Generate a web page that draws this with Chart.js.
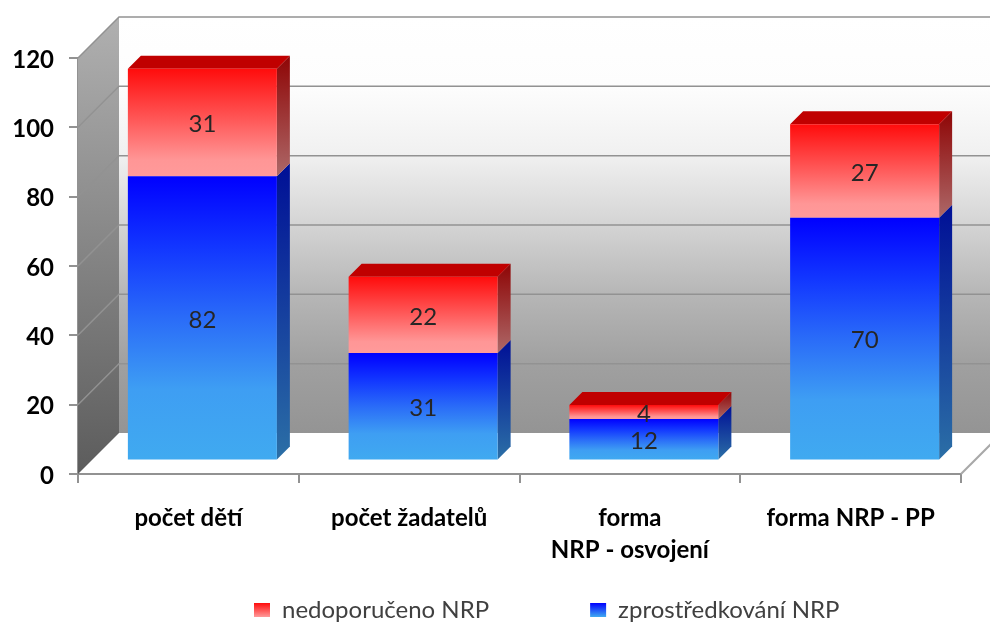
<!DOCTYPE html>
<html>
<head>
<meta charset="utf-8">
<script src="https://cdn.jsdelivr.net/npm/chart.js@4"></script>
<style>
  body { margin: 0; background: #ffffff; }
  canvas { display: block; }
</style>
</head>
<body>
<canvas id="chart" width="990" height="623"></canvas>
<script>
const categories = ["počet dětí", "počet žadatelů", ["forma", "NRP - osvojení"], "forma NRP - PP"];
const zprostredkovano = [82, 31, 12, 70];
const nedoporuceno = [31, 22, 4, 27];
const yTicks = [0, 20, 40, 60, 80, 100, 120];

const WALL_DEPTH = 41;
const BAR_SHIFT_X = 14;
const BAR_SHIFT_Y = 13.5;
const BAR_DEPTH = 13;
const GRID_COLOR = "#929292";
const BLUE_STOPS = [[0, "#0000ff"], [0.25, "#1236ff"], [0.5, "#2a6cf8"], [0.75, "#3e9ef3"], [1, "#40aaf0"]];
const RED_STOPS = [[0, "#ff0c0c"], [0.5, "#ff5c5c"], [0.85, "#ff9696"], [1, "#ff9a9a"]];

function gradientFrom(c, top, bottom, stops) {
  let g = c.createLinearGradient(0, top, 0, bottom);
  stops.forEach(function (s) {
    g.addColorStop(s[0], s[1]);
  });
  return g;
}

// front face gradient of one bar segment, follows the value scale
function barGradient(ctx, from, to, stops) {
  let chart = ctx.chart;
  if (!chart.scales.y) return stops[0][1];
  return gradientFrom(chart.ctx, chart.scales.y.getPixelForValue(to), chart.scales.y.getPixelForValue(from), stops);
}

const wallsPlugin = {
  id: "walls",
  beforeDraw(chart) {
    // legend sits off centre in the original
    let legend = chart.legend;
    let pad = legend.options.labels.padding;
    legend.left = 254 - pad;
    legend.right = legend.left + 900;
    legend.top = 598 - pad;
  },
  beforeDatasetsDraw(chart) {
    let c = chart.ctx;
    let area = chart.chartArea;
    let y = chart.scales.y;
    let d = WALL_DEPTH;

    c.save();
    // back wall
    c.fillStyle = gradientFrom(c, area.top - d, area.bottom - d, [
      [0, "#ffffff"],
      [0.167, "#fdfdfd"],
      [0.333, "#f0f0f0"],
      [0.5, "#d4d4d4"],
      [0.667, "#b6b6b6"],
      [0.833, "#a0a0a0"],
      [1, "#949494"],
    ]);
    c.fillRect(area.left + d, area.top - d, area.width, area.height);

    // left wall
    c.fillStyle = gradientFrom(c, area.top - d, area.bottom, [[0, "#b0b0b0"], [1, "#5c5c5c"]]);
    c.beginPath();
    c.moveTo(area.left, area.top);
    c.lineTo(area.left + d, area.top - d);
    c.lineTo(area.left + d, area.bottom - d);
    c.lineTo(area.left, area.bottom);
    c.closePath();
    c.fill();

    // grid lines run along both walls
    c.strokeStyle = GRID_COLOR;
    c.lineWidth = 1.5;
    yTicks.forEach(function (t) {
      if (t === 0) return;
      let py = y.getPixelForValue(t);
      c.beginPath();
      c.moveTo(area.left, py);
      c.lineTo(area.left + d, py - d);
      c.lineTo(area.right + d, py - d);
      c.stroke();
    });

    // right edge of the floor
    c.beginPath();
    c.moveTo(area.right, area.bottom);
    c.lineTo(area.right + d, area.bottom - d);
    c.strokeStyle = "#a8a8a8";
    c.lineWidth = 2;
    c.stroke();
    c.restore();

    // bars stand inside the box, so move them off the axes
    c.save();
    c.translate(BAR_SHIFT_X, -BAR_SHIFT_Y);

    // right sides and tops of the bars
    let low = chart.getDatasetMeta(0).data;
    let high = chart.getDatasetMeta(1).data;
    low.forEach(function (bar, i) {
      let r = bar.x + bar.width / 2;
      let l = bar.x - bar.width / 2;
      let top = high[i];
      let b = BAR_DEPTH;

      c.fillStyle = gradientFrom(c, bar.y - b, bar.base, [[0, "#000f96"], [1, "#2b6fa6"]]);
      c.beginPath();
      c.moveTo(r, bar.y);
      c.lineTo(r + b, bar.y - b);
      c.lineTo(r + b, bar.base - b);
      c.lineTo(r, bar.base);
      c.closePath();
      c.fill();

      c.fillStyle = gradientFrom(c, top.y - b, top.base, [[0, "#8e0505"], [1, "#ad6868"]]);
      c.beginPath();
      c.moveTo(r, top.y);
      c.lineTo(r + b, top.y - b);
      c.lineTo(r + b, top.base - b);
      c.lineTo(r, top.base);
      c.closePath();
      c.fill();

      c.fillStyle = "#c00000";
      c.beginPath();
      c.moveTo(l, top.y);
      c.lineTo(l + b, top.y - b);
      c.lineTo(r + b, top.y - b);
      c.lineTo(r, top.y);
      c.closePath();
      c.fill();
    });
  },
  afterDatasetsDraw(chart) {
    let c = chart.ctx;
    c.fillStyle = "#262626";
    c.font = "24px Lato";
    c.textAlign = "center";
    c.textBaseline = "middle";
    chart.data.datasets.forEach(function (ds, n) {
      chart.getDatasetMeta(n).data.forEach(function (bar, i) {
        c.fillText(ds.data[i], bar.x, (bar.y + bar.base) / 2 + 2);
      });
    });
    c.restore();
  },
};

let chartCtx = document.getElementById("chart").getContext("2d");
new Chart(chartCtx, {
  type: "bar",
  data: {
    labels: categories,
    datasets: [
      {
        label: "zprostředkování NRP",
        data: zprostredkovano,
        backgroundColor: function (ctx) {
          return barGradient(ctx, 0, zprostredkovano[ctx.dataIndex], BLUE_STOPS);
        },
      },
      {
        label: "nedoporučeno NRP",
        data: nedoporuceno,
        backgroundColor: function (ctx) {
          let from = zprostredkovano[ctx.dataIndex];
          return barGradient(ctx, from, from + nedoporuceno[ctx.dataIndex], RED_STOPS);
        },
      },
    ],
  },
  options: {
    responsive: false,
    animation: false,
    barPercentage: 0.675,
    categoryPercentage: 1,
    layout: { padding: { top: 58, right: 29 } },
    scales: {
      x: {
        stacked: true,
        afterFit: function (scale) { scale.height = 100; },
        grid: { drawOnChartArea: false, color: GRID_COLOR, lineWidth: 2, tickLength: 9 },
        border: { color: GRID_COLOR, width: 2 },
        ticks: {
          color: "#000000",
          font: { family: "Lato", size: 24, weight: "bold", lineHeight: 1.35 },
          padding: 19,
          maxRotation: 0,
          autoSkip: false,
        },
      },
      y: {
        stacked: true,
        min: 0,
        max: 120,
        afterFit: function (scale) { scale.width = 78; },
        grid: { drawOnChartArea: false, color: GRID_COLOR, lineWidth: 2, tickLength: 9 },
        border: { color: GRID_COLOR, width: 2 },
        ticks: {
          stepSize: 20,
          color: "#000000",
          font: { family: "Lato", size: 24, weight: "bold" },
          padding: 15,
          labelOffset: 2,
        },
      },
    },
    plugins: {
      tooltip: { enabled: false },
      legend: {
        position: "bottom",
        align: "start",
        reverse: true,
        maxHeight: 49,
        labels: {
          color: "#404040",
          font: { family: "Lato", size: 24 },
          boxWidth: 16,
          boxHeight: 14,
          padding: 101,
          generateLabels: function (chart) {
            let c = chart.ctx;
            let swatches = [[[0, "#0000ff"], [1, "#40aaf0"]], [[0, "#ff0c0c"], [1, "#ff9a9a"]]];
            return chart.data.datasets.map(function (ds, i) {
              return {
                text: ds.label,
                fillStyle: gradientFrom(c, 603, 617, swatches[i]),
                strokeStyle: "transparent",
                lineWidth: 0,
                fontColor: "#404040",
                datasetIndex: i,
              };
            });
          },
        },
      },
    },
  },
  plugins: [wallsPlugin],
});
</script>
</body>
</html>
